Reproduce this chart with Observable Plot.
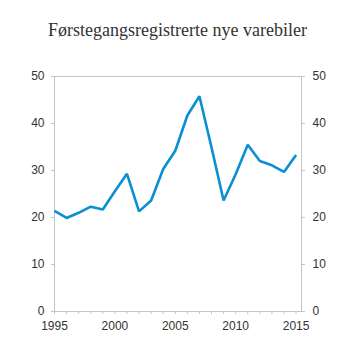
<!DOCTYPE html>
<html>
<head>
<meta charset="utf-8">
<script src="https://cdn.jsdelivr.net/npm/d3@7"></script>
<script src="https://cdn.jsdelivr.net/npm/@observablehq/plot@0.6"></script>
<style>
  html, body { margin: 0; padding: 0; background: #fff; }
  #wrap { width: 353px; height: 353px; overflow: hidden; }
  #title { height: 50px; box-sizing: border-box; padding-top: 21px; font: 18px/18px "Liberation Serif", "Times New Roman", serif; color: #333; text-align: center; white-space: nowrap; padding-left: 2px; }
</style>
</head>
<body>
<div id="wrap">
  <div id="title">Førstegangsregistrerte nye varebiler</div>
  <div id="chart"></div>
</div>
<script>
const years = [1995, 1996, 1997, 1998, 1999, 2000, 2001, 2002, 2003, 2004, 2005, 2006, 2007, 2008, 2009, 2010, 2011, 2012, 2013, 2014, 2015];
const values = [21.4, 19.9, 21.0, 22.3, 21.7, 25.6, 29.3, 21.3, 23.6, 30.3, 34.2, 41.7, 45.8, 34.9, 23.6, 29.2, 35.5, 32.0, 31.1, 29.7, 33.3];
const yTicks = [0, 10, 20, 30, 40, 50];
const xLabels = [1995, 2000, 2005, 2010, 2015];

const data = years.map((y, i) => ({year: y, value: values[i]}));

const axisColor = "#c4c4c4";
const textColor = "#333";
const font = '"Liberation Sans", Arial, sans-serif';

const chart = Plot.plot({
  width: 353,
  height: 303,
  marginTop: 26,
  marginBottom: 42,
  marginLeft: 54,
  marginRight: 52,
  style: {fontFamily: font, fontSize: "12px", background: "#fff", overflow: "visible"},
  x: {domain: [1995, 2015.45], label: null},
  y: {domain: [0, 50], label: null},
  marks: [
    Plot.frame({stroke: axisColor, strokeWidth: 1}),
    Plot.axisY({anchor: "left", ticks: yTicks, tickSize: 3, tickPadding: 7, stroke: axisColor, fill: textColor, label: null}),
    Plot.axisY({anchor: "right", ticks: yTicks, tickSize: 3, tickPadding: 8, stroke: axisColor, fill: textColor, label: null}),
    Plot.axisX({anchor: "bottom", ticks: years, tickSize: 3, tickPadding: 7, stroke: axisColor, fill: textColor, label: null,
      tickFormat: d => xLabels.includes(d) ? String(d) : ""}),
    Plot.line(data, {x: "year", y: "value", stroke: "#0a8fd3", strokeWidth: 2.6, strokeLinejoin: "miter", strokeLinecap: "butt"})
  ]
});
document.getElementById("chart").appendChild(chart);
</script>
</body>
</html>
